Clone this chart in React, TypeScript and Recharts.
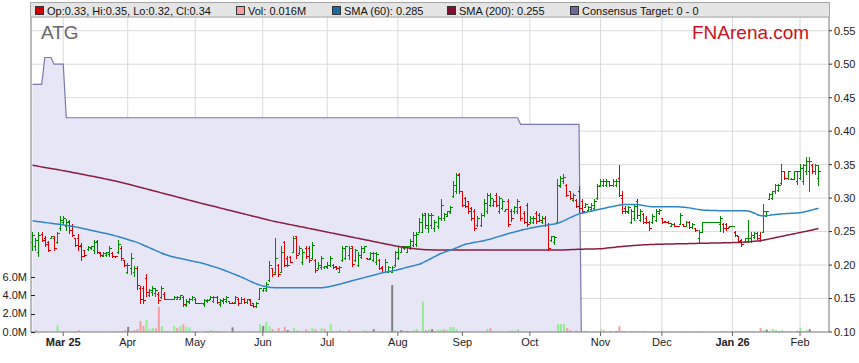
import React from 'react';
import { ComposedChart, Bar, Line, Area, XAxis, YAxis, CartesianGrid, Cell } from 'recharts';

const FONT = '"Liberation Sans", Arial, sans-serif';
const GREEN = '#008a00';
const RED = '#dd0000';

// trading days (weekdays) from 17 Feb 2025, 257 sessions
const START = '2025-02-17';
const DAYS = 257;

const MONTH_TICKS = ['2025-03-03', '2025-04-01', '2025-05-01', '2025-06-02', '2025-07-01', '2025-08-01',
  '2025-09-01', '2025-10-01', '2025-11-03', '2025-12-01', '2026-01-01', '2026-02-02'];
const MONTH_LABELS = ['Mar 25', 'Apr', 'May', 'Jun', 'Jul', 'Aug', 'Sep', 'Oct', 'Nov', 'Dec', 'Jan 26', 'Feb'];
const YEAR_LABELS = ['Mar 25', 'Jan 26'];

const PRICE_TICKS = [0.1, 0.15, 0.2, 0.25, 0.3, 0.35, 0.4, 0.45, 0.5, 0.55];
const VOL_TICKS = [0, 2, 4, 6];

// prices in 1/1000 $
const OPEN = [
  235, 228, 220, 247, 240, 234, 241, 240, 235, 255,
  265, 258, 266, 258, 240, 240, 230, 222, 224, 225,
  222, 236, 218, 214, 215, 216, 218, 214, 220, 225,
  207, 190, 195, 190, 195, 165, 165, 180, 156, 160,
  158, 157, 153, 157, 149, 150, 150, 150, 150, 153,
  141, 145, 149, 150, 144, 143, 142, 146, 150, 147,
  152, 142, 146, 146, 146, 144, 145, 150, 144, 150,
  145, 148, 143, 139, 150, 162, 163, 178, 195, 190,
  200, 190, 235, 210, 212, 220, 243, 218, 205, 226,
  225, 210, 207, 195, 197, 197, 197, 200, 200, 198,
  190, 208, 210, 215, 228, 208, 200, 212, 220, 210,
  210, 208, 205, 208, 197, 190, 190, 190, 200, 210,
  220, 225, 220, 225, 230, 232, 250, 250, 277, 255,
  260, 255, 258, 270, 270, 274, 279, 303, 310, 336,
  310, 300, 295, 285, 280, 260, 260, 275, 280, 290,
  290, 305, 280, 285, 281, 295, 280, 280, 280, 286,
  278, 290, 265, 264, 278, 275, 265, 270, 260, 238,
  234, 265, 318, 325, 320, 310, 297, 297, 310, 295,
  287, 282, 283, 285, 300, 320, 320, 319, 325, 319,
  320, 330, 300, 285, 279, 265, 270, 295, 268, 276,
  270, 264, 264, 268, 277, 270, 266, 265, 259, 262,
  259, 262, 261, 259, 265, 257, 256, 240, 250, 264,
  264, 264, 264, 264, 262, 262, 262, 257, 258, 250,
  243, 237, 235, 236, 236, 242, 248, 245, 250, 274,
  299, 300, 310, 312, 322, 340, 330, 328, 329, 325,
  330, 325, 340, 340, 350, 340, 330,
];
const HIGH = [
  249, 241, 249, 249, 243, 236, 244, 243, 250, 273,
  273, 269, 268, 261, 241, 246, 233, 223, 228, 229,
  238, 238, 219, 219, 220, 228, 219, 214, 238, 228,
  208, 203, 218, 198, 198, 169, 169, 187, 164, 169,
  166, 159, 169, 159, 150, 150, 154, 154, 156, 154,
  149, 151, 154, 151, 144, 143, 149, 149, 154, 154,
  154, 149, 151, 154, 146, 145, 154, 151, 152, 151,
  150, 149, 144, 145, 166, 166, 174, 206, 196, 240,
  201, 229, 236, 214, 214, 244, 244, 229, 224, 229,
  229, 234, 209, 204, 214, 199, 204, 214, 201, 199,
  199, 229, 229, 229, 229, 224, 219, 229, 229, 210,
  219, 219, 219, 209, 199, 209, 199, 199, 221, 229,
  229, 229, 229, 239, 249, 249, 271, 278, 278, 278,
  278, 268, 273, 298, 278, 281, 288, 326, 338, 338,
  311, 301, 296, 286, 283, 273, 278, 298, 308, 308,
  298, 308, 303, 298, 283, 298, 283, 288, 298, 288,
  281, 293, 273, 273, 281, 278, 273, 273, 263, 244,
  244, 328, 333, 336, 321, 311, 308, 298, 318, 298,
  293, 288, 293, 298, 321, 328, 328, 328, 326, 328,
  328, 350, 311, 288, 288, 283, 291, 298, 283, 278,
  273, 266, 276, 283, 283, 271, 266, 266, 263, 263,
  259, 278, 261, 266, 266, 263, 256, 253, 264, 264,
  264, 264, 264, 264, 273, 263, 263, 258, 258, 251,
  244, 239, 241, 268, 249, 249, 249, 249, 291, 281,
  308, 311, 321, 321, 351, 341, 341, 330, 341, 341,
  351, 351, 361, 361, 351, 351, 350,
];
const LOW = [
  223, 223, 213, 236, 228, 221, 241, 223, 233, 253,
  261, 253, 248, 243, 228, 223, 208, 213, 223, 224,
  218, 218, 213, 213, 213, 213, 212, 212, 218, 208,
  198, 188, 186, 183, 164, 144, 144, 154, 154, 156,
  154, 144, 151, 149, 149, 150, 149, 149, 149, 139,
  139, 144, 148, 143, 143, 143, 139, 145, 149, 145,
  143, 139, 144, 145, 143, 143, 144, 141, 143, 143,
  144, 140, 137, 138, 149, 161, 161, 176, 184, 186,
  184, 189, 199, 199, 204, 219, 211, 216, 201, 211,
  204, 209, 189, 194, 194, 196, 196, 199, 196, 194,
  189, 206, 209, 209, 199, 206, 199, 211, 219, 209,
  209, 206, 201, 194, 189, 189, 189, 189, 199, 209,
  219, 224, 219, 224, 229, 229, 249, 249, 256, 249,
  256, 251, 256, 268, 268, 273, 278, 301, 308, 308,
  288, 286, 278, 268, 253, 258, 258, 273, 278, 288,
  288, 288, 278, 283, 281, 258, 266, 278, 278, 268,
  263, 258, 263, 263, 263, 266, 263, 258, 222, 236,
  231, 263, 316, 323, 303, 298, 296, 286, 278, 278,
  286, 281, 281, 283, 298, 318, 318, 318, 318, 318,
  318, 303, 278, 278, 278, 263, 268, 271, 266, 263,
  263, 253, 263, 266, 276, 263, 265, 263, 258, 258,
  258, 261, 258, 258, 256, 256, 251, 234, 249, 264,
  264, 264, 264, 264, 251, 249, 253, 257, 258, 244,
  234, 229, 234, 234, 234, 241, 239, 236, 249, 273,
  298, 298, 308, 311, 321, 328, 328, 328, 328, 321,
  328, 321, 336, 310, 338, 336, 320,
];
const CLOSE = [
  245, 238, 245, 238, 232, 223, 243, 225, 248, 268,
  270, 265, 252, 245, 230, 228, 213, 215, 227, 228,
  235, 220, 215, 218, 219, 225, 213, 213, 232, 210,
  200, 200, 210, 195, 170, 150, 148, 160, 162, 166,
  163, 148, 165, 150, 150, 150, 153, 152, 155, 142,
  147, 150, 153, 143, 143, 143, 148, 148, 153, 152,
  145, 148, 150, 152, 143, 143, 152, 143, 150, 145,
  149, 141, 139, 144, 165, 165, 172, 200, 186, 210,
  187, 220, 200, 200, 205, 240, 215, 225, 220, 214,
  207, 230, 192, 200, 210, 199, 200, 210, 197, 195,
  197, 225, 228, 226, 202, 222, 215, 226, 228, 209,
  218, 218, 217, 196, 190, 205, 197, 197, 219, 228,
  228, 228, 228, 236, 245, 247, 265, 275, 260, 275,
  275, 265, 270, 290, 276, 280, 286, 320, 335, 311,
  290, 288, 280, 270, 256, 270, 275, 293, 305, 300,
  296, 290, 300, 295, 283, 262, 270, 286, 295, 270,
  265, 262, 271, 270, 266, 268, 271, 260, 226, 243,
  242, 320, 330, 332, 305, 300, 305, 288, 285, 280,
  291, 287, 290, 295, 318, 326, 325, 326, 319, 326,
  326, 305, 280, 280, 286, 280, 288, 275, 280, 265,
  264, 255, 274, 280, 282, 264, 265, 263, 262, 259,
  258, 275, 258, 265, 257, 262, 252, 250, 264, 264,
  264, 264, 264, 264, 270, 255, 256, 258, 258, 245,
  236, 232, 240, 240, 245, 248, 240, 238, 280, 280,
  306, 310, 320, 320, 340, 330, 340, 329, 340, 340,
  345, 350, 355, 355, 340, 350, 340,
];

// daily volume, millions of shares
const VOLUME = [
  0.05, 0.2, 0.1, 0.1, 0.05, 0.02, 0, 0.05, 0.74, 0.1,
  0.05, 0.02, 0.05, 0.05, 0.1, 0.2, 0.1, 0.05, 0.08, 0.05,
  0.05, 0.1, 0.03, 0.1, 0.02, 0.05, 0.05, 0.02, 0.1, 0.1,
  0.2, 0.55, 0.1, 0.2, 0.3, 1.2, 0.66, 1.3, 0.3, 0.44,
  0.4, 2.76, 0.63, 0.1, 0.05, 0.02, 0.66, 0.44, 0.63, 0.85,
  0.55, 0.48, 0.1, 0.05, 0.02, 0, 0.05, 0.05, 0.2, 0.1,
  0.1, 0.1, 0.05, 0.05, 0.02, 0.5, 0.1, 0.05, 0.05, 0.02,
  0.05, 0.05, 0.1, 0.05, 0.85, 0.66, 1.1, 0.63, 0.33, 0.1,
  0.44, 0.1, 0.55, 0.2, 0.1, 0.44, 0.15, 0.1, 0.05, 0.3,
  0.1, 0.44, 0.3, 0.05, 0.44, 0.35, 0.05, 0.85, 0.1, 0.1,
  0.2, 0.1, 0.05, 0.2, 0.1, 0.05, 0.05, 0.05, 0.2, 0.1,
  0.05, 0.3, 0.05, 0.05, 0.1, 0.05, 0.05, 5.1, 0.2, 0.05,
  0.2, 0.05, 0.1, 0.1, 0.2, 0.3, 0.05, 3.3, 0.2, 0.25,
  0.3, 0.1, 0.25, 0.25, 0.3, 0.2, 0.55, 0.55, 0.3, 0.1,
  0.05, 0.1, 0.05, 0.05, 0.05, 0.05, 0.02, 0.05, 0.33, 0.44,
  0.05, 0.05, 0.05, 0.05, 0.02, 0.1, 0.2, 0.05, 0.3, 0.05,
  0.05, 0.05, 0.1, 0.05, 0.05, 0.05, 0.1, 0.05, 0.1, 0.05,
  0.05, 0.85, 0.85, 0.85, 0.44, 0.2, 0.1, 0.15, 0.1, 0.1,
  0.15, 0.05, 0.05, 0.05, 0.1, 0.3, 0.2, 0.05, 0.1, 0.02,
  0.1, 0.63, 0.1, 0.05, 0.02, 0.1, 0.05, 0.1, 0.05, 0.1,
  0.02, 0.05, 0.05, 0.05, 0.05, 0.05, 0.1, 0.05, 0.02, 0.05,
  0.02, 0.1, 0.02, 0.05, 0.05, 0.05, 0.02, 0.05, 0.1, 0,
  0, 0, 0, 0, 0.1, 0.05, 0.05, 0.05, 0.02, 0.05,
  0.05, 0.1, 0.1, 0.05, 0.05, 0.1, 0.05, 0.44, 0.2, 0.25,
  0.1, 0.33, 0.2, 0.05, 0.2, 0.05, 0.1, 0.05, 0.05, 0.1,
  0.44, 0.1, 0.2, 0.3, 0.05, 0.1, 0.016,
];

const SMA60 = [
  266.0, 265.4, 264.8, 264.2, 263.6, 263.0, 262.4, 261.8, 261.2, 260.6,
  260.0, 259.3, 258.6, 257.8, 257.0, 256.0, 255.0, 254.0, 253.0, 252.0,
  251.0, 250.0, 249.0, 248.0, 247.0, 246.0, 244.8, 243.6, 242.4, 241.0,
  239.6, 238.2, 236.8, 235.4, 233.8, 232.0, 230.0, 228.0, 226.0, 224.0,
  222.0, 220.0, 218.0, 216.2, 214.6, 213.2, 212.0, 211.0, 210.0, 209.0,
  208.0, 207.0, 206.0, 205.0, 204.0, 203.0, 201.8, 200.4, 199.0, 197.6,
  196.2, 194.6, 193.0, 191.2, 189.4, 187.6, 185.8, 184.0, 182.0, 180.0,
  177.8, 175.6, 173.6, 171.6, 170.0, 168.8, 167.8, 167.0, 166.5, 166.2,
  166.0, 166.0, 166.0, 166.0, 166.0, 166.0, 166.0, 166.0, 166.0, 166.0,
  166.0, 166.0, 166.0, 166.0, 166.2, 166.6, 167.2, 168.0, 169.0, 170.2,
  171.4, 172.6, 174.0, 175.2, 176.4, 177.6, 178.8, 180.0, 181.2, 182.4,
  183.6, 184.8, 186.0, 187.2, 188.4, 189.4, 190.2, 191.0, 192.0, 193.0,
  194.2, 195.4, 196.6, 197.8, 199.0, 200.0, 201.2, 203.2, 205.4, 207.8,
  210.2, 212.6, 215.0, 217.2, 219.0, 220.6, 222.0, 223.6, 225.4, 227.4,
  229.4, 231.0, 232.0, 233.0, 233.8, 234.6, 235.4, 236.2, 237.6, 238.6,
  240.0, 241.4, 242.8, 244.2, 245.6, 247.0, 248.2, 249.4, 250.6, 251.8,
  253.0, 254.0, 255.0, 256.0, 256.8, 257.6, 258.4, 259.2, 260.0, 260.6,
  261.2, 262.4, 264.0, 266.0, 268.2, 270.4, 272.6, 274.6, 276.4, 277.6,
  278.6, 279.6, 280.6, 281.6, 282.6, 283.6, 284.6, 285.6, 286.6, 287.6,
  288.6, 289.4, 290.0, 290.3, 290.5, 290.6, 290.6, 290.4, 289.8, 289.0,
  288.0, 287.4, 287.2, 287.0, 287.0, 287.0, 287.0, 287.0, 287.0, 287.0,
  287.0, 286.8, 286.4, 286.0, 285.4, 284.6, 283.8, 283.0, 282.4, 282.0,
  281.8, 281.6, 281.4, 281.3, 281.2, 281.0, 281.0, 281.0, 281.0, 281.0,
  281.0, 281.0, 281.0, 280.6, 279.6, 277.8, 275.6, 274.0, 273.4, 273.6,
  274.2, 275.0, 275.6, 276.0, 276.4, 276.8, 277.0, 277.2, 277.5, 277.8,
  278.2, 279.0, 280.0, 281.2, 282.4, 283.6, 284.8,
];

const SMA200 = [
  349.0, 348.2, 347.4, 346.6, 345.8, 345.0, 344.2, 343.4, 342.6, 341.8,
  341.0, 340.2, 339.3, 338.4, 337.5, 336.6, 335.7, 334.8, 333.9, 333.0,
  332.1, 331.2, 330.3, 329.4, 328.4, 327.4, 326.4, 325.4, 324.4, 323.3,
  322.2, 321.0, 319.8, 318.6, 317.4, 316.2, 315.0, 313.8, 312.6, 311.4,
  310.2, 309.0, 307.8, 306.6, 305.4, 304.2, 303.0, 301.8, 300.6, 299.4,
  298.2, 297.0, 295.8, 294.6, 293.4, 292.3, 291.1, 290.0, 288.8, 287.7,
  286.6, 285.4, 284.3, 283.1, 282.0, 280.8, 279.7, 278.5, 277.4, 276.3,
  275.1, 274.0, 272.8, 271.7, 270.6, 269.4, 268.3, 267.1, 266.0, 265.1,
  264.1, 263.2, 262.3, 261.3, 260.4, 259.5, 258.6, 257.6, 256.7, 255.8,
  254.8, 253.9, 253.0, 252.1, 251.1, 250.2, 249.3, 248.3, 247.4, 246.5,
  245.5, 244.6, 243.7, 242.8, 241.8, 240.9, 240.0, 239.0, 238.1, 237.2,
  236.3, 235.3, 234.4, 233.5, 232.5, 231.6, 230.7, 229.8, 228.8, 228.0,
  227.2, 226.5, 225.8, 225.2, 224.6, 224.1, 223.7, 223.3, 223.0, 222.8,
  222.6, 222.5, 222.4, 222.4, 222.4, 222.4, 222.4, 222.4, 222.4, 222.4,
  222.4, 222.4, 222.4, 222.4, 222.4, 222.4, 222.4, 222.4, 222.4, 222.4,
  222.4, 222.4, 222.4, 222.4, 222.4, 222.4, 222.4, 222.4, 222.4, 222.4,
  222.4, 222.4, 222.4, 222.4, 222.4, 222.4, 222.4, 222.4, 222.4, 222.4,
  222.4, 222.4, 222.4, 222.6, 222.8, 223.0, 223.2, 223.4, 223.6, 223.7,
  223.8, 223.9, 224.0, 224.1, 224.2, 224.4, 224.8, 225.3, 225.8, 226.3,
  226.8, 227.3, 227.8, 228.2, 228.6, 229.0, 229.3, 229.6, 229.9, 230.2,
  230.4, 230.6, 230.8, 231.0, 231.1, 231.2, 231.3, 231.4, 231.5, 231.6,
  231.7, 231.8, 231.9, 232.0, 232.1, 232.2, 232.3, 232.4, 232.5, 232.6,
  232.7, 232.8, 232.9, 233.0, 233.1, 233.2, 233.3, 233.4, 233.5, 233.6,
  233.8, 234.0, 234.3, 234.6, 235.0, 235.4, 235.8, 236.3, 237.2, 238.2,
  239.1, 240.1, 241.0, 242.0, 242.9, 243.9, 244.8, 245.8, 246.7, 247.7,
  248.6, 249.6, 250.5, 251.5, 252.4, 253.4, 254.5,
];

// consensus target: [first session index, value in 1/1000 $] (null = no target)
const TARGET_STEPS: [number, number | null][] = [
  [0, 470], [4, 510], [7, 500], [11, 420], [159, 410], [179, 0], [180, null],
];

const weekdays = (start: string, n: number) => {
  const out: string[] = [];
  const d = new Date(start + 'T00:00:00Z');
  while (out.length < n) {
    const wd = d.getUTCDay();
    if (wd !== 0 && wd !== 6) out.push(d.toISOString().slice(0, 10));
    d.setUTCDate(d.getUTCDate() + 1);
  }
  return out;
};

const targetAt = (i: number) => {
  let v: number | null = null;
  for (const [from, val] of TARGET_STEPS) if (i >= from) v = val;
  return v == null ? null : v / 1000;
};

const DATES = weekdays(START, DAYS);
const TABLE = DATES.map((d, i) => ({
  d,
  open: OPEN[i] / 1000,
  high: HIGH[i] / 1000,
  low: LOW[i] / 1000,
  close: CLOSE[i] / 1000,
  vol: VOLUME[i],
  sma60: SMA60[i] / 1000,
  sma200: SMA200[i] / 1000,
  target: targetAt(i),
}));

const volColor = (i: number) => {
  if (i === 0) return '#90ee90';
  const diff = CLOSE[i] - CLOSE[i - 1];
  if (diff > 0) return '#90ee90';
  if (diff < 0) return '#f4a0a0';
  return '#808080';
};

const OhlcShape = (props: any) => {
  const { x, y, width, height, payload } = props;
  if (!payload || x == null || y == null) return null;
  const { open, high, low, close } = payload;
  const k = high > low ? height / (high - low) : 0;
  const py = (v: number) => Math.round(y + (high - v) * k) + 0.5;
  const cx = Math.round(x + width / 2) + 0.5;
  const c = close < open ? RED : GREEN;
  return (
    <g stroke={c} strokeWidth={1} shapeRendering="crispEdges">
      <line x1={cx} x2={cx} y1={py(high) - 0.5} y2={py(low) + 0.5} />
      <line x1={cx - 2} x2={cx} y1={py(open)} y2={py(open)} />
      <line x1={cx} x2={cx + 2} y1={py(close)} y2={py(close)} />
    </g>
  );
};

const DateTick = (props: any) => {
  const { x, y, payload } = props;
  const label = MONTH_LABELS[MONTH_TICKS.indexOf(payload.value)] ?? '';
  const bold = YEAR_LABELS.includes(label);
  return (
    <text x={x} y={y} dy="0.71em" textAnchor="middle" fontSize={11} fontFamily={FONT}
      fontWeight={bold ? 700 : 400} fill="#222">
      {label}
    </text>
  );
};

// volume axis labels, with the small tick drawn inside the plot like the original
const VolTick = (props: any) => {
  const { x, y, payload } = props;
  const ty = Math.round(y) + 0.5;
  return (
    <g>
      <line x1={x + 4} x2={x + 8} y1={ty} y2={ty} stroke="#222" shapeRendering="crispEdges" />
      <text x={x} y={y} dy="0.355em" textAnchor="end" fontSize={11} fontFamily={FONT} fill="#222">
        {Number(payload.value).toFixed(1) + 'M'}
      </text>
    </g>
  );
};

const LEGEND = [
  { x: 35, color: '#cc0000', text: 'Op:0.33, Hi:0.35, Lo:0.32, Cl:0.34' },
  { x: 236, color: '#f4a0a0', text: 'Vol: 0.016M' },
  { x: 332, color: '#1a6aa8', text: 'SMA (60): 0.285' },
  { x: 447, color: '#80102e', text: 'SMA (200): 0.255' },
  { x: 570, color: '#6a6a9c', text: 'Consensus Target: 0 - 0' },
];

export default function App() {
  return (
    <div style={{ position: 'absolute', left: 0, top: 0, width: 859, height: 363, background: '#fff' }}>
      <ComposedChart width={859} height={363} data={TABLE}
        margin={{ top: 17, right: 0, bottom: 0, left: 0 }}>
        <CartesianGrid yAxisId="price" stroke="#dadada" />
        <XAxis dataKey="d" ticks={MONTH_TICKS} interval={0} tick={<DateTick />} height={31}
          tickSize={4} tickMargin={2} padding={{ left: 0, right: 9 }}
          axisLine={{ stroke: '#888' }} tickLine={{ stroke: '#666' }} />
        <XAxis xAxisId="v" dataKey="d" hide padding={{ left: 0, right: 9 }} />
        <YAxis yAxisId="vol" orientation="left" width={31} domain={[0, 34.2]} ticks={VOL_TICKS}
          interval={0} tickSize={0} tickMargin={4} tick={<VolTick />} axisLine={{ stroke: '#888' }} />
        <YAxis yAxisId="price" orientation="right" width={30} domain={[0.1, 0.5705]} allowDataOverflow
          ticks={PRICE_TICKS} interval={0} tickFormatter={(v: number) => v.toFixed(2)} tickSize={3}
          tickMargin={2} tick={{ fontSize: 11, fill: '#222', fontFamily: FONT }}
          axisLine={{ stroke: '#888' }} tickLine={{ stroke: '#333' }} />
        <Area yAxisId="price" dataKey="target" type="linear" stroke="#7a7aac" strokeWidth={1.2}
          fill="#e6e6f6" fillOpacity={1} dot={false} activeDot={false} isAnimationActive={false} />
        <Bar xAxisId="v" yAxisId="vol" dataKey="vol" barSize={2} isAnimationActive={false}>
          {TABLE.map((_, i) => <Cell key={i} fill={volColor(i)} />)}
        </Bar>
        <Bar yAxisId="price" dataKey={(r: any) => [r.low, r.high]} shape={OhlcShape}
          isAnimationActive={false} />
        <Line yAxisId="price" dataKey="sma200" type="monotone" stroke="#8c1c40" strokeWidth={1.5}
          dot={false} activeDot={false} isAnimationActive={false} />
        <Line yAxisId="price" dataKey="sma60" type="monotone" stroke="#2f86c4" strokeWidth={1.5}
          dot={false} activeDot={false} isAnimationActive={false} />
      </ComposedChart>
      <svg width={859} height={363} style={{ position: 'absolute', left: 0, top: 0, pointerEvents: 'none' }}>
        <rect x={30.5} y={2.5} width={799} height={14.5} fill="#e5e5e5" stroke="#a8a8a8" />
        {LEGEND.map((l) => (
          <g key={l.text}>
            <rect x={l.x + 0.5} y={6.5} width={8} height={8} fill={l.color} stroke="#333" />
            <text x={l.x + 12} y={14.5} fontSize={11} fontFamily={FONT} fill="#111">{l.text}</text>
          </g>
        ))}
        <text x={41} y={39} fontSize={19} fontFamily={FONT} fill="#666">ATG</text>
        <text x={692} y={39} fontSize={19} fontFamily={FONT} fill="#cc1020">FNArena.com</text>
      </svg>
    </div>
  );
}
